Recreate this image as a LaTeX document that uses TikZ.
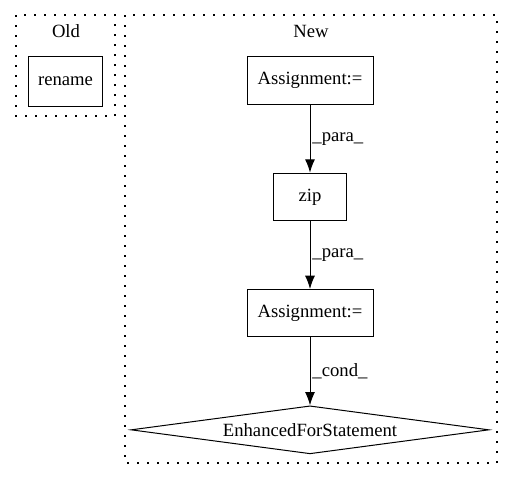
\documentclass[tikz,border=0pt]{standalone}
\usepackage{fontspec}
\setmainfont{Liberation Serif}
\usetikzlibrary{shapes.geometric, arrows.meta, positioning}
\tikzstyle{box} = [rectangle, minimum width=94.5pt, minimum height=35.5pt, text centered, draw=black, line width=0.75pt, fill=white, font=\fontsize{14pt}{16pt}\selectfont]
\tikzstyle{cond} = [diamond, aspect=7.45, inner sep=0pt, minimum width=268.5pt, minimum height=36pt, text centered, draw=black, line width=0.75pt, fill=white, font=\fontsize{14pt}{16pt}\selectfont]
\tikzstyle{cluster} = [line width=0.8pt, dash pattern=on 1.5pt off 6pt]
\tikzstyle{clusterlabel} = [inner sep=0pt, font=\fontsize{14pt}{16pt}\selectfont]
\tikzstyle{edgelabel} = [right, midway, inner sep=1.5pt, font=\fontsize{14pt}{16pt}\selectfont]
\tikzstyle{arrow} = [line width=0.75pt, -{Latex[length=10pt, width=7.5pt]}]

\begin{document}
\begin{tikzpicture}[x=0.75pt, y=-0.75pt, node distance = 51pt]
		\useasboundingbox (0,0) rectangle (512,480);
		\draw [cluster] (16,15) rectangle (115,116);
		\draw [cluster] (125,15) rectangle (497,463);
		\node (oldlbl) [clusterlabel] at (66,31) {Old};
		\node (newlbl) [clusterlabel] at (311,31) {New};
		\node (rename) [box, minimum width=56pt, minimum height=37pt] at (65.5,81.5) {rename};
		\node (assign1) [box] at (310,80.5) {Assignment:=};
		\node (zip) [box, minimum width=55pt, below=of assign1] {zip};
		\node (assign2) [box, below=of zip] {Assignment:=};
		\node (enhfor) [cond, below=of assign2] {EnhancedForStatement};
		\draw [arrow] (assign1) -- node [edgelabel] {\_para\_} (zip);
		\draw [arrow] (zip) -- node [edgelabel] {\_para\_} (assign2);
		\draw [arrow] (assign2) -- node [edgelabel] {\_cond\_} (enhfor);
	\end{tikzpicture}
\end{document}
